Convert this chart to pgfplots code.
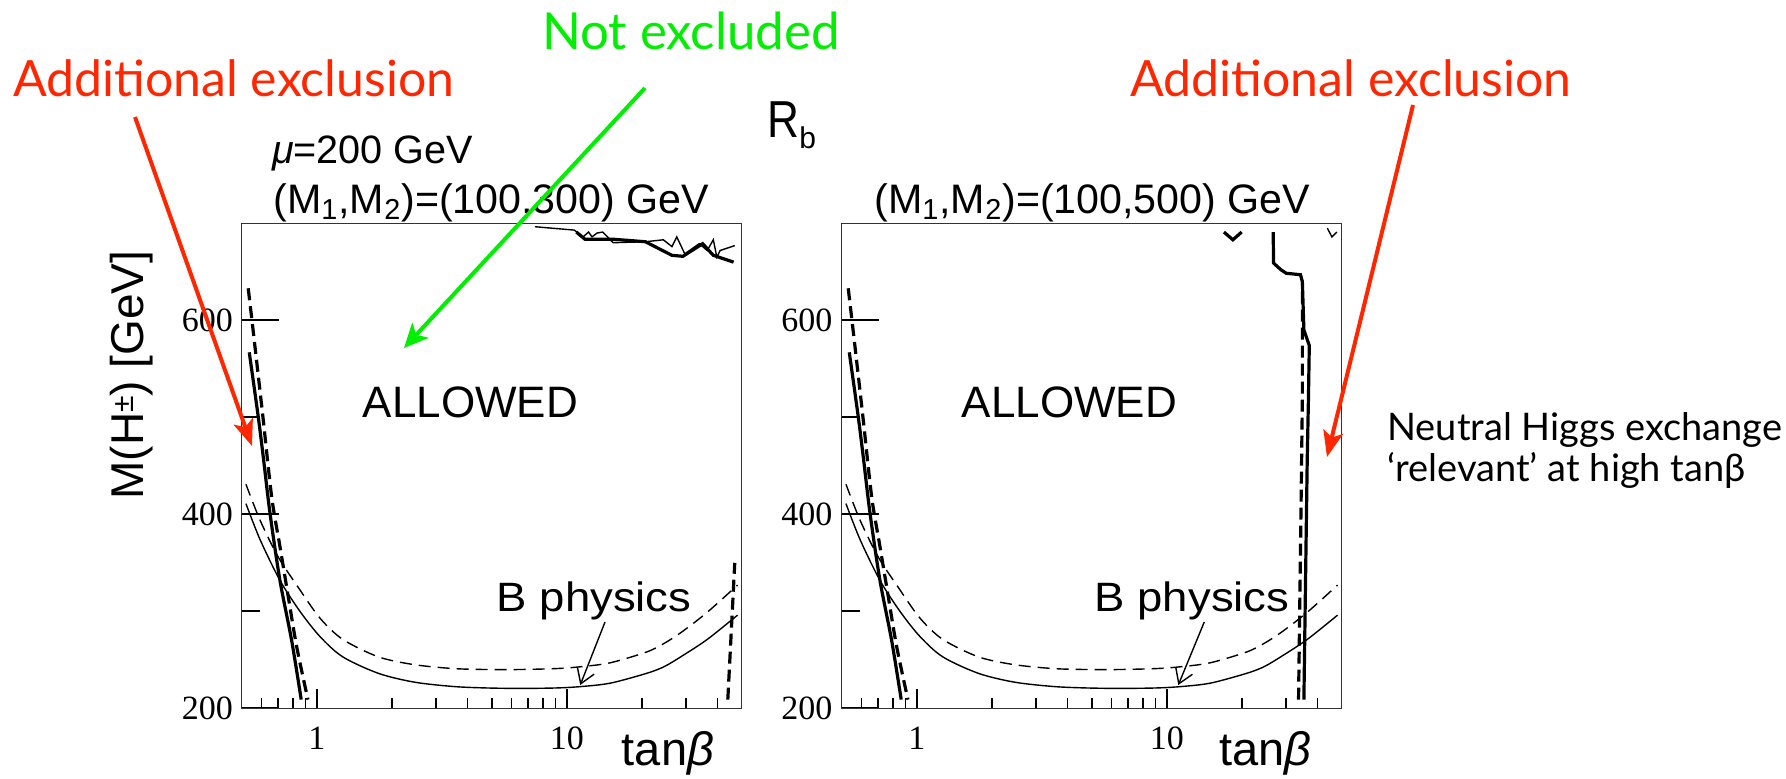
\documentclass[border=0pt]{standalone}
\usepackage{fontspec}
\usepackage{pgfplots}
\usepackage{pgfplotstable}
\pgfplotsset{compat=1.18}
\usetikzlibrary{arrows.meta}
\setmainfont{Liberation Sans}
\newfontfamily\gill{Lato}
\newfontfamily\tms{Liberation Serif}
\definecolor{annred}{RGB}{255,38,0}
\definecolor{anngreen}{RGB}{0,238,0}

\pgfplotstableread{
x y
0.536 567
0.582 501
0.610 459
0.649 401
0.711 332
0.792 270
0.865 209
}\rbsolid
\pgfplotstableread{
x y
0.531 633
0.565 573
0.610 497
0.659 418
0.711 367
0.768 315
0.829 264
0.920 209
}\rbdashed
\pgfplotstableread{
x y
0.520 411
0.592 374
0.711 332
0.855 300
1.028 274
1.269 253
1.763 236
2.449 227
3.5 222.5
4.73 221
6.5 220.5
9.13 221
11.5 222.5
14.95 226
20.8 236
24.5 243
28.9 254
36.4 271
48.1 296
}\bsolid
\pgfplotstableread{
x y
0.520 431
0.592 394
0.700 356
0.84 325
1.028 293
1.269 271
1.763 253
2.449 245
3.5 241
4.73 240
6.5 240
9.13 241
11.5 243
14.95 247
20.8 258
24.5 267
28.9 279
36.4 299
48.1 327
}\bdashed
\pgfplotstableread{
x y
44 209
46.9 350
}\leftedge
\pgfplotstableread{
x y
10.9 691
11.8 683.6
15.3 683.6
20.6 681
26.3 667
29.1 666
34.9 679
38.5 667
46.4 660
}\wigthick
\pgfplotstableread{
x y
7.44 696.5
10.7 693
11.6 686
12.2 691
12.6 686
13.2 690
13.9 691
15.3 680
20.6 681
24.3 683
26.3 676
27.5 686
29.6 668.5
33.8 679
36.4 672
38.5 683
39.8 665
41 672
46.9 677
}\wigthin
\pgfplotstableread{
x y
33.6 209
34.2 360
34.8 518
34.8 641
}\vdashed
\pgfplotstableread{
x y
35.3 209
35.9 346
36.4 456
36.8 518
37.1 574
35.3 590
34.8 640
34.2 647
30.0 648.5
28.6 652
26.7 659
26.6 691
}\vsolid
\pgfplotstableread{
x y
16.9 691
18.35 683
19.9 691
}\vmarkA
\pgfplotstableread{
x y
43.8 695
45.7 686
47.8 691
}\vmarkB

\tikzset{
  thk/.style={black, line width=1.6pt},
  thkd/.style={black, line width=1.6pt, dash pattern=on 6pt off 3pt},
  thn/.style={black, line width=0.7pt},
  thnd/.style={black, line width=0.7pt, dash pattern=on 6pt off 3.5pt},
}

\begin{document}
\begin{tikzpicture}
\path[use as bounding box] (0,0) rectangle (893pt,389pt);

% ---------- left panel ----------
\begin{axis}[scale only axis, width=250pt, height=242.5pt, xmode=log,
    xmin=0.5, xmax=50, ymin=200, ymax=700, anchor=south west,
    at={(120.85pt,34.85pt)},
    axis line style={black!80, line width=0.7pt},
    tick pos=left, tick align=inside,
    tick style={black, line width=0.9pt},
    xtick=\empty,
    ytick={200,400,600}, minor ytick={300,500},
    major tick length=18.5pt, minor tick length=9pt,
    /pgf/number format/assume math mode=true,
    yticklabel style={font=\fontsize{17}{17}\selectfont\tms, inner sep=4.2pt}]
 \addplot[thn, smooth] table {\bsolid};
 \addplot[thnd, smooth] table {\bdashed};
 \addplot[thk, smooth] table {\rbsolid};
 \addplot[thkd, smooth] table {\rbdashed};
 \addplot[thkd] table {\leftedge};
 \addplot[thk] table {\wigthick};
 \addplot[thn] table {\wigthin};
 \draw[black, line width=0.7pt, -{Straight Barb[length=7pt,width=9pt]}] (axis cs:14.2,289) -- (axis cs:11.3,224);
\end{axis}
\begin{axis}[scale only axis, width=250pt, height=242.5pt, xmode=log,
    xmin=0.5, xmax=50, ymin=200, ymax=700, anchor=south west,
    at={(120.85pt,34.85pt)},
    axis line style={draw=none},
    tick pos=left, tick align=inside,
    tick style={black, line width=0.9pt},
    ytick=\empty,
    xtick={1,10}, xticklabels={1,10},
    minor xtick={0.6,0.7,0.8,0.9,2,3,4,5,6,7,8,9,20,30,40},
    major tick length=9.5pt, minor tick length=5pt,
    xticklabel style={font=\fontsize{17}{17}\selectfont\tms, yshift=-6pt}]
 \addplot[draw=none] coordinates {(1,300)};
\end{axis}

% ---------- right panel ----------
\begin{axis}[scale only axis, width=250pt, height=242.5pt, xmode=log,
    xmin=0.5, xmax=50, ymin=200, ymax=700, anchor=south west,
    at={(420.85pt,34.85pt)},
    axis line style={black!80, line width=0.7pt},
    tick pos=left, tick align=inside,
    tick style={black, line width=0.9pt},
    xtick=\empty,
    ytick={200,400,600}, minor ytick={300,500},
    major tick length=18.5pt, minor tick length=9pt,
    /pgf/number format/assume math mode=true,
    yticklabel style={font=\fontsize{17}{17}\selectfont\tms, inner sep=4.5pt}]
 \addplot[thn, smooth] table {\bsolid};
 \addplot[thnd, smooth] table {\bdashed};
 \addplot[thk, smooth] table {\rbsolid};
 \addplot[thkd, smooth] table {\rbdashed};
 \addplot[thkd] table {\vdashed};
 \addplot[thk] table {\vsolid};
 \addplot[thk] table {\vmarkA};
 \addplot[thn] table {\vmarkB};
 \draw[black, line width=0.7pt, -{Straight Barb[length=7pt,width=9pt]}] (axis cs:14.1,289) -- (axis cs:11.1,224);
\end{axis}
\begin{axis}[scale only axis, width=250pt, height=242.5pt, xmode=log,
    xmin=0.5, xmax=50, ymin=200, ymax=700, anchor=south west,
    at={(420.85pt,34.85pt)},
    axis line style={draw=none},
    tick pos=left, tick align=inside,
    tick style={black, line width=0.9pt},
    ytick=\empty,
    xtick={1,10}, xticklabels={1,10},
    minor xtick={0.6,0.7,0.8,0.9,2,3,4,5,6,7,8,9,20,30,40},
    major tick length=9.5pt, minor tick length=5pt,
    xticklabel style={font=\fontsize{17}{17}\selectfont\tms, yshift=-6pt}]
 \addplot[draw=none] coordinates {(1,300)};
\end{axis}

% ---------- annotations (pixel-like coordinates, y downwards) ----------
\begin{scope}[x=0.5pt, y=-0.5pt, shift={(0pt,389pt)}]
 \tikzset{every node/.style={inner sep=0pt, anchor=base west}}
 \node[font=\fontsize{19.8}{19.8}\selectfont] at (271.7,164) {\textit{μ}=200 GeV};
 \node[font=\fontsize{20.6}{20.6}\selectfont] at (273,213) {(M\textsubscript{1},M\textsubscript{2})=(100,300) GeV};
 \node[font=\fontsize{20.6}{20.6}\selectfont] at (874,213) {(M\textsubscript{1},M\textsubscript{2})=(100,500) GeV};
 \node[font=\fontsize{26}{26}\selectfont] at (767,138) {\scalebox{0.85}[1]{R}\raisebox{-5.5pt}{\fontsize{15}{15}\selectfont b}};
 \node[font=\fontsize{22}{22}\selectfont] at (362.5,417.3) {ALLOWED};
 \node[font=\fontsize{22}{22}\selectfont] at (961.4,417.3) {ALLOWED};
 \node[font=\fontsize{20.5}{20.5}\selectfont] at (496.4,611.7) {\scalebox{1.11}[1]{B physics}};
 \node[font=\fontsize{20.5}{20.5}\selectfont] at (1094.3,611.7) {\scalebox{1.11}[1]{B physics}};
 \node[font=\fontsize{23.5}{23.5}\selectfont] at (621.4,765) {tan\textit{β}};
 \node[font=\fontsize{23.5}{23.5}\selectfont] at (1218.6,765) {tan\textit{β}};
 \node[font=\fontsize{23}{23}\selectfont, rotate=90] at (143.3,500)
   {M(H\raisebox{5pt}{\fontsize{15}{15}\selectfont ±}) [GeV]};
 \node[font=\fontsize{25}{25}\selectfont\gill, text=annred] at (12.7,96.7) {Additional exclusion};
 \node[font=\fontsize{25}{25}\selectfont\gill, text=annred] at (1130,96.7) {Additional exclusion};
 \node[font=\fontsize{25.5}{25.5}\selectfont\gill, text=anngreen] at (541.7,50) {Not excluded};
 \node[font=\fontsize{19}{19}\selectfont\gill] at (1387,440) {Neutral Higgs exchange};
 \node[font=\fontsize{19}{19}\selectfont\gill] at (1387,481.7) {‘relevant’ at high tanβ};
 \draw[annred, line width=2pt, -{Stealth[length=13pt,width=10pt,inset=3pt]}] (135,117) -- (252,446);
 \draw[annred, line width=2pt, -{Stealth[length=13pt,width=10pt,inset=3pt]}] (1413,105) -- (1327,457);
 \draw[anngreen, line width=2pt, -{Stealth[length=12pt,width=11pt,inset=3pt]}] (645,88) -- (404,348);
\end{scope}
\end{tikzpicture}
\end{document}
